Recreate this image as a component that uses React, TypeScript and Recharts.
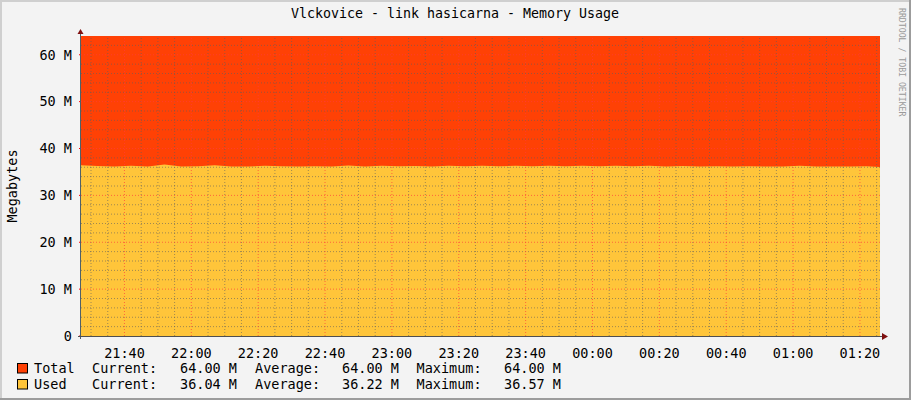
import React from 'react';
import { ComposedChart, Area, XAxis, YAxis, ReferenceLine } from 'recharts';

// minutes after 21:00 (5 minute samples)
const minutes = [
    27, 32, 37, 42, 47, 52, 57, 62, 67, 72, 77, 82, 87, 92, 97, 102,
    107, 112, 117, 122, 127, 132, 137, 142, 147, 152, 157, 162, 167, 172, 177, 182,
    187, 192, 197, 202, 207, 212, 217, 222, 227, 232, 237, 242, 247, 252, 257, 262, 266,
];
const usedMB = [
    36.42, 36.28, 36.15, 36.33, 36.15, 36.57, 36.18, 36.22, 36.45, 36.18, 36.15, 36.30, 36.20, 36.15, 36.20, 36.18,
    36.40, 36.15, 36.30, 36.20, 36.25, 36.15, 36.30, 36.20, 36.32, 36.20, 36.30, 36.20, 36.30, 36.20, 36.30, 36.20,
    36.30, 36.20, 36.30, 36.15, 36.25, 36.15, 36.20, 36.15, 36.20, 36.15, 36.15, 36.30, 36.15, 36.15, 36.15, 36.20, 36.04,
];
const TOTAL_MB = 64;

const yTicks = [0, 10, 20, 30, 40, 50, 60];
const yMinor = [2, 4, 6, 8, 12, 14, 16, 18, 22, 24, 26, 28, 32, 34, 36, 38, 42, 44, 46, 48, 52, 54, 56, 58, 62];
const xTicks = [40, 60, 80, 100, 120, 140, 160, 180, 200, 220, 240, 260];
const xMinor = [30, 35, 45, 50, 55, 65, 70, 75, 85, 90, 95, 105, 110, 115, 125, 130, 135, 145, 150, 155, 165, 170, 175, 185, 190, 195, 205, 210, 215, 225, 230, 235, 245, 250, 255, 265];

const legendRows = [
    { name: 'Total', color: '#ff4105', current: '64.00 M', average: '64.00 M', maximum: '64.00 M' },
    { name: 'Used', color: '#ffc53a', current: '36.04 M', average: '36.22 M', maximum: '36.57 M' },
];

const data = minutes.map((t, i) => ({ t, total: TOTAL_MB, used: usedMB[i] }));

const mono = 'DejaVu Sans Mono, monospace';
const minorColor = 'rgba(95,95,95,0.6)';
const majorColor = 'rgba(255,60,60,0.7)';

const fmtTime = (m: number) => {
    const total = (21 * 60 + m) % (24 * 60);
    const h = Math.floor(total / 60);
    const mm = total % 60;
    return `${String(h).padStart(2, '0')}:${String(mm).padStart(2, '0')}`;
};

export default function App() {
    return (
        <div
            style={{
                position: 'absolute',
                left: 0,
                top: 0,
                width: 911,
                height: 400,
                background: '#f3f3f3',
                overflow: 'hidden',
            }}
        >
            <ComposedChart
                width={911}
                height={400}
                data={data}
                margin={{ top: 36, right: 29, left: 21, bottom: 34 }}
            >
                <XAxis
                    dataKey="t"
                    type="number"
                    domain={[27, 266]}
                    allowDataOverflow
                    ticks={xTicks}
                    tickFormatter={fmtTime}
                    axisLine={false}
                    tickLine={false}
                    tickMargin={6}
                    height={30}
                    tick={{ fill: '#000', fontSize: 13.5, fontFamily: mono }}
                />
                <YAxis
                    yAxisId="left"
                    domain={[0, 64]}
                    ticks={yTicks}
                    width={60}
                    axisLine={false}
                    tickSize={2}
                    tickMargin={7}
                    tickLine={{ stroke: '#ff0000' }}
                    tickFormatter={(v: number) => (v === 0 ? '0' : `${v} M`)}
                    tick={{ fill: '#000', fontSize: 13.5, fontFamily: mono }}
                />
                <YAxis
                    yAxisId="right"
                    orientation="right"
                    domain={[0, 64]}
                    ticks={yTicks}
                    width={2}
                    axisLine={false}
                    tickSize={2}
                    tickLine={{ stroke: '#ff0000' }}
                    tickFormatter={() => ''}
                />
                <Area
                    yAxisId="left"
                    type="linear"
                    dataKey="total"
                    stroke="none"
                    fill="#ff4105"
                    fillOpacity={1}
                    isAnimationActive={false}
                />
                <Area
                    yAxisId="left"
                    type="linear"
                    dataKey="used"
                    stroke="none"
                    fill="#ffc53a"
                    fillOpacity={1}
                    isAnimationActive={false}
                />
                {yMinor.map((v) => (
                    <ReferenceLine key={`ym${v}`} yAxisId="left" y={v} stroke={minorColor} strokeDasharray="1 2" />
                ))}
                {xMinor.map((v) => (
                    <ReferenceLine key={`xm${v}`} yAxisId="left" x={v} stroke={minorColor} strokeDasharray="1 2" />
                ))}
                {yTicks.slice(1).map((v) => (
                    <ReferenceLine key={`yM${v}`} yAxisId="left" y={v} stroke={majorColor} strokeDasharray="1 2" />
                ))}
                {xTicks.map((v) => (
                    <ReferenceLine key={`xM${v}`} yAxisId="left" x={v} stroke={majorColor} strokeDasharray="1 2" />
                ))}
            </ComposedChart>

            <svg
                width={911}
                height={400}
                style={{ position: 'absolute', left: 0, top: 0, pointerEvents: 'none' }}
            >
                {/* frame */}
                <line x1={0} y1={1} x2={911} y2={1} stroke="#cfcfcf" strokeWidth={2} />
                <line x1={1} y1={0} x2={1} y2={400} stroke="#cfcfcf" strokeWidth={2} />
                <line x1={910} y1={0} x2={910} y2={400} stroke="#9c9c9c" strokeWidth={2} />
                <line x1={0} y1={399} x2={911} y2={399} stroke="#9c9c9c" strokeWidth={2} />

                {/* axes and arrows */}
                <line x1={80.5} y1={33} x2={80.5} y2={339} stroke="#4f6168" strokeWidth={1} />
                <line x1={78} y1={336.5} x2={883} y2={336.5} stroke="#4f4f4f" strokeWidth={1} />
                <polygon points="77.5,34 83.5,34 80.5,29" fill="#7f1010" />
                <polygon points="882,333 882,340 888,336.5" fill="#7f1010" />

                <text x={455} y={18} textAnchor="middle" fontFamily={mono} fontSize={13.3} fill="#000">
                    Vlckovice - link hasicarna - Memory Usage
                </text>
                <text
                    x={16.5}
                    y={186}
                    textAnchor="middle"
                    fontFamily={mono}
                    fontSize={13.5}
                    fill="#000"
                    transform="rotate(-90, 16.5, 186)"
                >
                    Megabytes
                </text>
                <text
                    x={899}
                    y={8}
                    fontFamily={mono}
                    fontSize={8.2}
                    fill="#9a9a9a"
                    transform="rotate(90, 899, 8)"
                >
                    RRDTOOL / TOBI OETIKER
                </text>

                {legendRows.map((r, i) => {
                    const y = 373 + i * 16;
                    return (
                        <g key={r.name} fontFamily={mono} fontSize={13.5} fill="#000">
                            <rect x={17.5} y={y - 9.5} width={10} height={9.5} fill={r.color} stroke="#000" strokeWidth={1} />
                            <text x={34} y={y}>{r.name}</text>
                            <text x={92} y={y}>Current:</text>
                            <text x={180} y={y}>{r.current}</text>
                            <text x={255} y={y}>Average:</text>
                            <text x={342} y={y}>{r.average}</text>
                            <text x={416.5} y={y}>Maximum:</text>
                            <text x={504} y={y}>{r.maximum}</text>
                        </g>
                    );
                })}
            </svg>
        </div>
    );
}
